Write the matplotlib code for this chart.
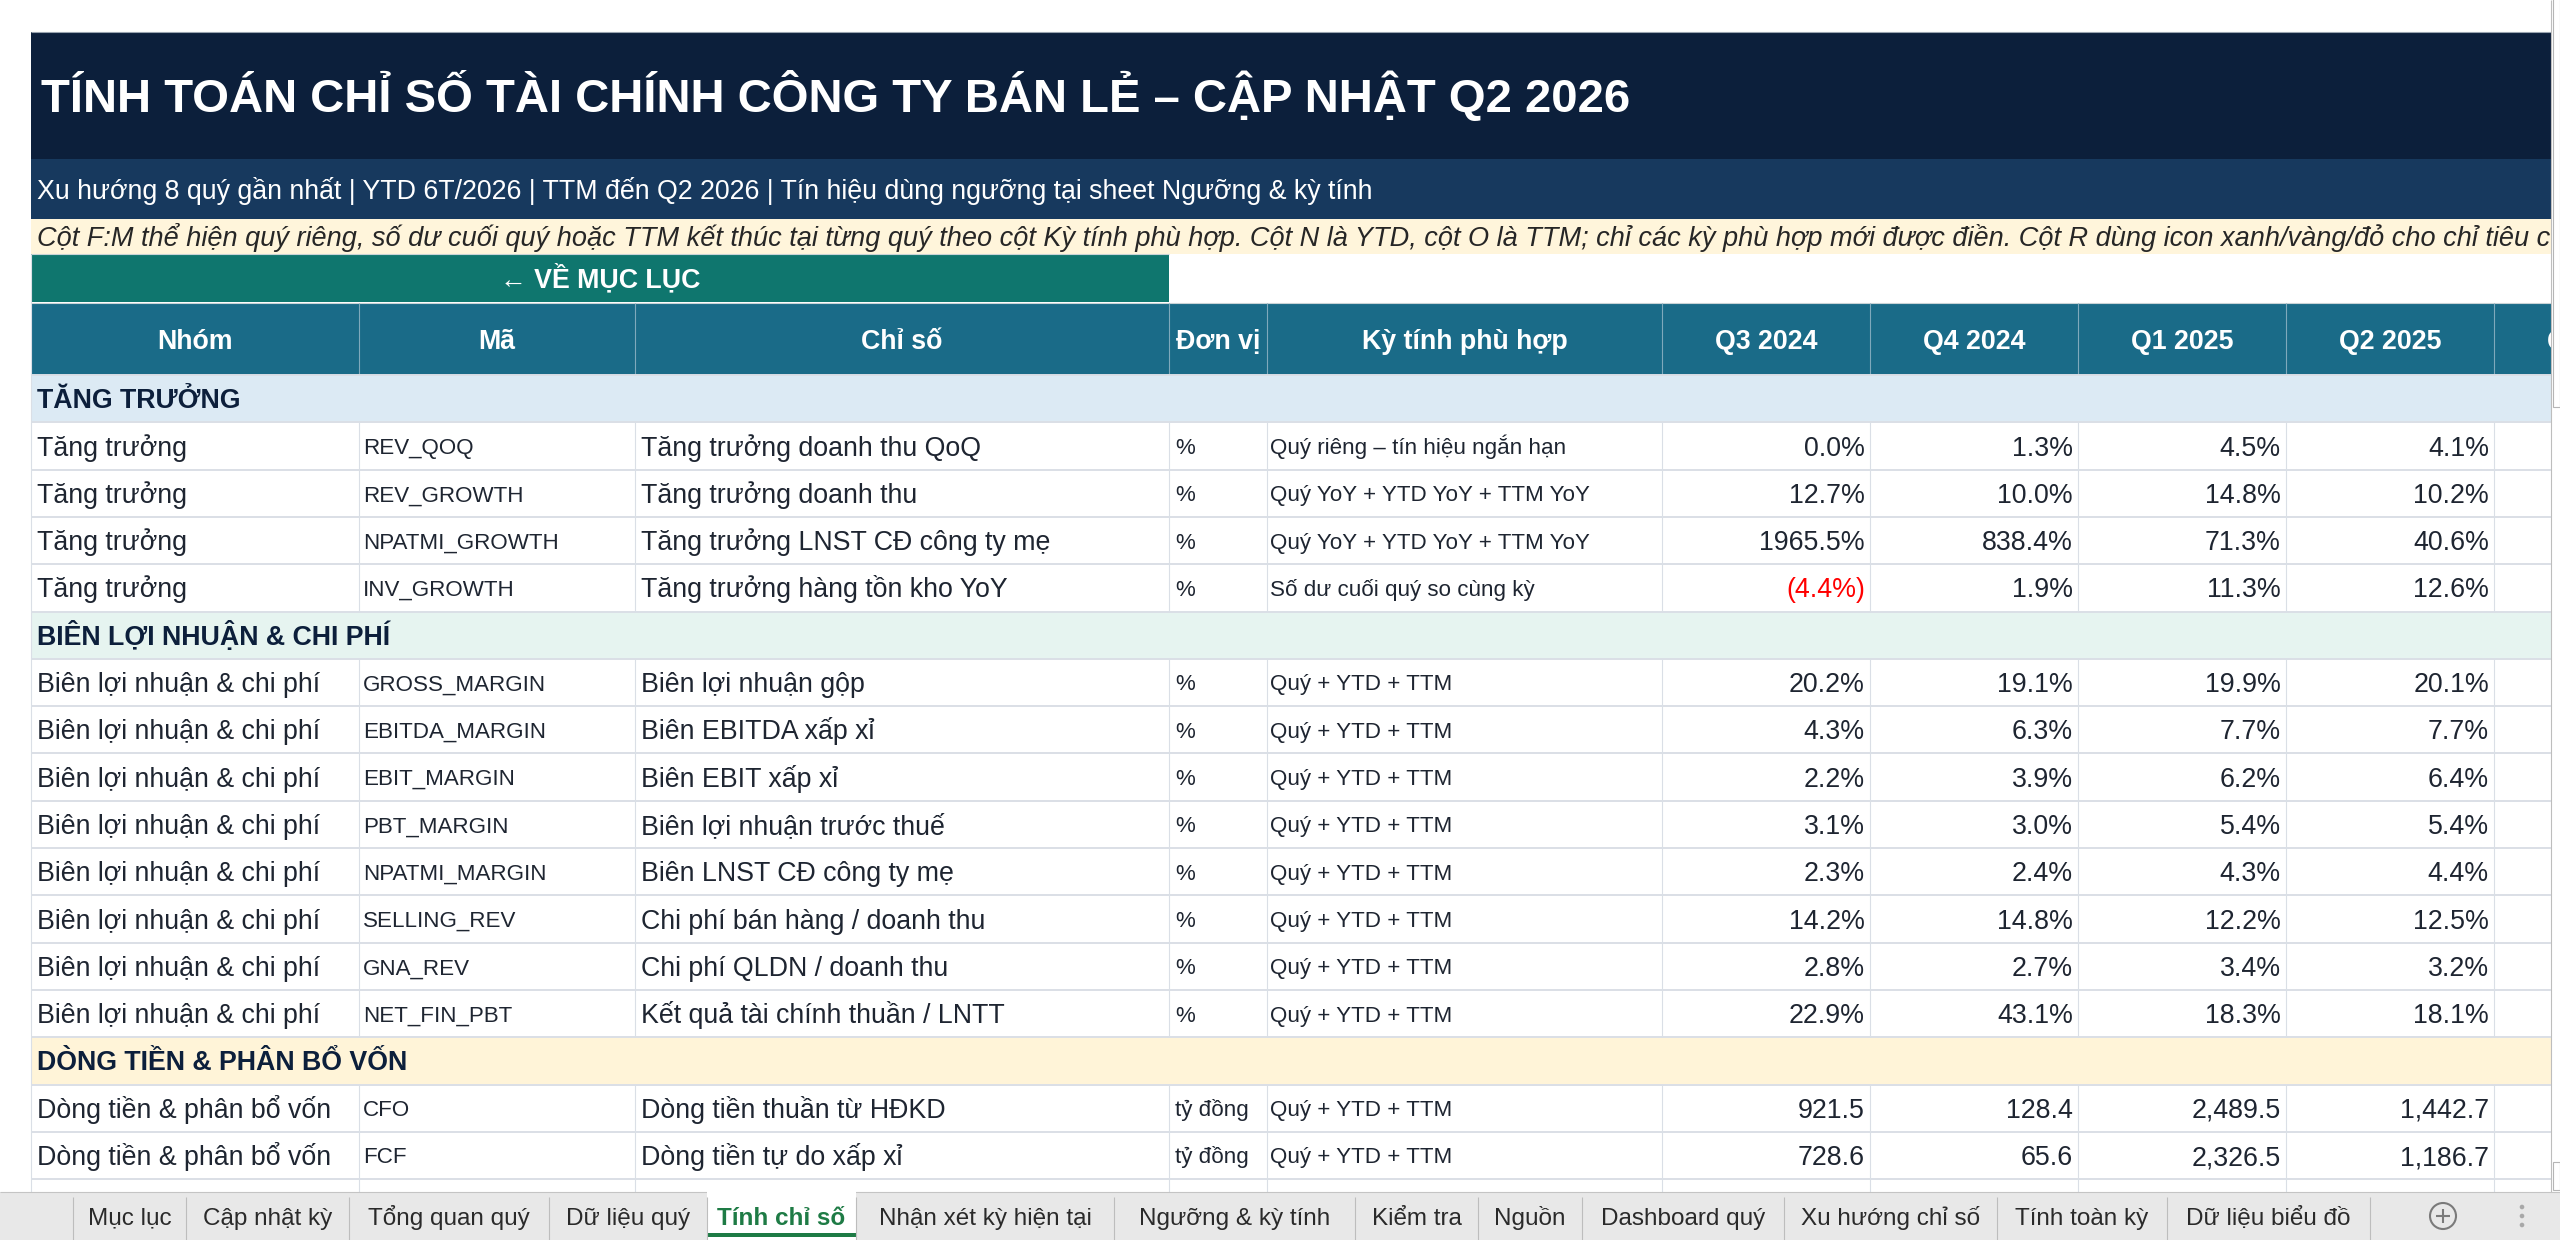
import matplotlib
matplotlib.use("Agg")
import matplotlib.pyplot as plt
from matplotlib.patches import Rectangle, Circle

plt.rcParams['font.family'] = ['Liberation Sans', 'DejaVu Sans']

# ---- text / data ----
title = "TÍNH TOÁN CHỈ SỐ TÀI CHÍNH CÔNG TY BÁN LẺ – CẬP NHẬT Q2 2026"
subtitle = ("Xu hướng 8 quý gần nhất | YTD 6T/2026 | TTM đến Q2 2026 | "
            "Tín hiệu dùng ngưỡng tại sheet Ngưỡng & kỳ tính")
note = ("Cột F:M thể hiện quý riêng, số dư cuối quý hoặc TTM kết thúc tại từng quý theo cột "
        "Kỳ tính phù hợp. Cột N là YTD, cột O là TTM; chỉ các kỳ phù hợp mới được điền. "
        "Cột R dùng icon xanh/vàng/đỏ cho chỉ tiêu có ngưỡng.")
back_link = "← VỀ MỤC LỤC"

columns = ["Nhóm", "Mã", "Chỉ số", "Đơn vị", "Kỳ tính phù hợp"]
quarters = ["Q3 2024", "Q4 2024", "Q1 2025", "Q2 2025", "Q3 2025"]

sections = ["TĂNG TRƯỞNG", "BIÊN LỢI NHUẬN & CHI PHÍ", "DÒNG TIỀN & PHÂN BỔ VỐN"]
groups = ["Tăng trưởng", "Biên lợi nhuận & chi phí", "Dòng tiền & phân bổ vốn"]

metric_section = [0, 0, 0, 0, 1, 1, 1, 1, 1, 1, 1, 1, 2, 2]
codes = ["REV_QOQ", "REV_GROWTH", "NPATMI_GROWTH", "INV_GROWTH",
         "GROSS_MARGIN", "EBITDA_MARGIN", "EBIT_MARGIN", "PBT_MARGIN",
         "NPATMI_MARGIN", "SELLING_REV", "GNA_REV", "NET_FIN_PBT",
         "CFO", "FCF"]
names = ["Tăng trưởng doanh thu QoQ", "Tăng trưởng doanh thu",
         "Tăng trưởng LNST CĐ công ty mẹ", "Tăng trưởng hàng tồn kho YoY",
         "Biên lợi nhuận gộp", "Biên EBITDA xấp xỉ", "Biên EBIT xấp xỉ",
         "Biên lợi nhuận trước thuế", "Biên LNST CĐ công ty mẹ",
         "Chi phí bán hàng / doanh thu", "Chi phí QLDN / doanh thu",
         "Kết quả tài chính thuần / LNTT",
         "Dòng tiền thuần từ HĐKD", "Dòng tiền tự do xấp xỉ"]
units = ["%"] * 12 + ["tỷ đồng"] * 2
periods = ["Quý riêng – tín hiệu ngắn hạn", "Quý YoY + YTD YoY + TTM YoY",
           "Quý YoY + YTD YoY + TTM YoY", "Số dư cuối quý so cùng kỳ"] + ["Quý + YTD + TTM"] * 10

q3_2024 = [0.0, 12.7, 1965.5, -4.4, 20.2, 4.3, 2.2, 3.1, 2.3, 14.2, 2.8, 22.9, 921.5, 728.6]
q4_2024 = [1.3, 10.0, 838.4, 1.9, 19.1, 6.3, 3.9, 3.0, 2.4, 14.8, 2.7, 43.1, 128.4, 65.6]
q1_2025 = [4.5, 14.8, 71.3, 11.3, 19.9, 7.7, 6.2, 5.4, 4.3, 12.2, 3.4, 18.3, 2489.5, 2326.5]
q2_2025 = [4.1, 10.2, 40.6, 12.6, 20.1, 7.7, 6.4, 5.4, 4.4, 12.5, 3.2, 18.1, 1442.7, 1186.7]
quarter_values = [q3_2024, q4_2024, q1_2025, q2_2025]

tabs = ["Mục lục", "Cập nhật kỳ", "Tổng quan quý", "Dữ liệu quý", "Tính chỉ số",
        "Nhận xét kỳ hiện tại", "Ngưỡng & kỳ tính", "Kiểm tra", "Nguồn",
        "Dashboard quý", "Xu hướng chỉ số", "Tính toàn kỳ", "Dữ liệu biểu đồ"]
active_tab = "Tính chỉ số"

# ---- layout / style ----
W, H = 2560, 1240
LEFT, RIGHT = 31, 2551
col_x = [31, 359, 635, 1169, 1267, 1662, 1870, 2078, 2286, 2494, 2702]
row_top0, row_h = 375, 47.3
tab_edges = [73, 186, 349, 549, 707, 856, 1114, 1355, 1478, 1582, 1784, 1997, 2167, 2370]
TAB_TOP = 1192

NAVY = "#0C1F3B"
SUB = "#17395E"
NOTE_BG = "#FFF5DB"
BTN = "#0F766E"
HEAD = "#1A6B88"
SEC_BG = ["#DCEAF4", "#E6F4F0", "#FFF4D8"]
TXT = "#1E2531"
GRID = "#DADFE6"
FS = 19.25
FS_S = 16.1

fig = plt.figure(figsize=(W / 100, H / 100), dpi=100)
ax = fig.add_axes([0, 0, 1, 1])
ax.set_xlim(0, W)
ax.set_ylim(H, 0)
ax.axis('off')


def rect(x0, y0, x1, y1, fc, ec='none', lw=0, z=1):
    p = Rectangle((x0, y0), x1 - x0, y1 - y0, facecolor=fc,
                  edgecolor=ec, linewidth=lw, zorder=z)
    ax.add_patch(p)
    return p


def line(xs, ys, c, lw, z=2):
    ax.plot(xs, ys, color=c, lw=lw, zorder=z, solid_capstyle='butt')


def txt(x, yc, s, fs, color, ha='left', weight='normal', style='normal', z=4):
    em = fs * 100 / 72
    return ax.text(x, yc + 0.358 * em, s, fontsize=fs, color=color, ha=ha, va='baseline',
                   fontweight=weight, fontstyle=style, zorder=z)


# title band
rect(LEFT, 32, RIGHT, 159, NAVY)
line([LEFT, RIGHT], [32, 32], "#9AA4B0", 0.8, z=3)
txt(41, 95.5, title, 34, "white", weight='bold')
rect(LEFT, 159, RIGHT, 219, SUB)
txt(37, 189, subtitle, FS, "white")
rect(LEFT, 219, RIGHT, 254, NOTE_BG)
txt(37, 236.5, note, 19.5, "#262626", style='italic')

# back button
rect(LEFT, 254, col_x[3], 302, BTN)
line([LEFT, col_x[3]], [254, 254], "#C9D3D6", 0.8, z=3)
txt((LEFT + col_x[3]) / 2, 278, back_link, FS, "white", ha='center', weight='bold')

# header
rect(LEFT, 303, RIGHT, 375, HEAD)
line([LEFT, RIGHT], [303, 303], "#C9D3D6", 0.8, z=3)
headers = columns + quarters
for i, h in enumerate(headers):
    x0, x1 = col_x[i], col_x[i + 1]
    if i > 0:
        line([x0, x0], [303, 375], "#7FA9BC", 0.8, z=3)
    txt((x0 + x1) / 2, 339, h, FS, "white", ha='center', weight='bold')


# body rows
def fmt(v, unit):
    s = f"{abs(v):.1f}%" if unit == "%" else f"{abs(v):,.1f}"
    return f"({s})" if v < 0 else s


r = 0
cur = -1
for m in range(len(codes)):
    if metric_section[m] != cur:
        cur = metric_section[m]
        y0 = row_top0 + r * row_h
        rect(LEFT, y0, RIGHT, y0 + row_h, SEC_BG[cur])
        txt(37, y0 + row_h / 2, sections[cur], FS, NAVY, weight='bold')
        r += 1
    y0 = row_top0 + r * row_h
    yc = y0 + row_h / 2
    txt(col_x[0] + 6, yc, groups[metric_section[m]], FS, TXT)
    txt(col_x[1] + 4, yc, codes[m], FS_S, TXT)
    txt(col_x[2] + 6, yc, names[m], FS, TXT)
    txt(col_x[3] + 6, yc, units[m], FS_S, TXT)
    txt(col_x[4] + 3, yc, periods[m], FS_S, TXT)
    for q, vals in enumerate(quarter_values):
        v = vals[m]
        txt(col_x[5 + q + 1] - 5, yc, fmt(v, units[m]), FS,
            "#FF0000" if v < 0 else TXT, ha='right')
    for x in col_x[1:]:
        line([x, x], [y0, y0 + row_h], GRID, 0.8)
    r += 1

# next row, hidden behind the sheet tabs
y0 = row_top0 + r * row_h
for x in col_x[1:]:
    line([x, x], [y0, y0 + row_h], GRID, 0.8)

for k in range(r + 1):
    y = row_top0 + k * row_h
    line([LEFT, RIGHT], [y, y], GRID, 1.4, z=3)
line([LEFT, LEFT], [254, H], GRID, 0.8, z=3)

# right edge / scrollbar
rect(RIGHT, 0, W, H, "white", z=20)
line([RIGHT, RIGHT], [0, TAB_TOP], "#BDBDBD", 0.8, z=21)
rect(2553, -5, 2559.5, 407, "white", ec="#B5B5B5", lw=0.8, z=21)
rect(2553, 1162, 2559.5, 1190, "white", ec="#B5B5B5", lw=0.8, z=21)

# sheet tabs
rect(0, TAB_TOP, W, H, "#E8E8E8", z=22)
line([0, W], [TAB_TOP, TAB_TOP], "#C4C4C4", 0.8, z=23)
for i, name in enumerate(tabs):
    x0, x1 = tab_edges[i], tab_edges[i + 1]
    if name == active_tab:
        rect(x0, TAB_TOP - 1, x1, H, "white", z=23)
        rect(x0, 1233, x1, 1237, "#1E7B45", z=24)
        txt((x0 + x1) / 2, 1216, name, 17.5, "#1E7B45", ha='center', weight='bold', z=25)
    else:
        txt((x0 + x1) / 2, 1216, name, 17.5, "#2A2A2A", ha='center', z=25)
for e in tab_edges:
    line([e, e], [1197, H], "#BDBDBD", 0.8, z=24)

ax.add_patch(Circle((2443, 1216), 13, fill=False, edgecolor="#7A7A7A", linewidth=1.5, zorder=25))
line([2436, 2450], [1216, 1216], "#7A7A7A", 1.5, z=25)
line([2443, 2443], [1209, 1223], "#7A7A7A", 1.5, z=25)
for dy in (-9, 0, 9):
    ax.add_patch(Circle((2522, 1216 + dy), 1.6, color="#A8A8A8", zorder=25))

fig.savefig("out.png", dpi=100, facecolor="white")
